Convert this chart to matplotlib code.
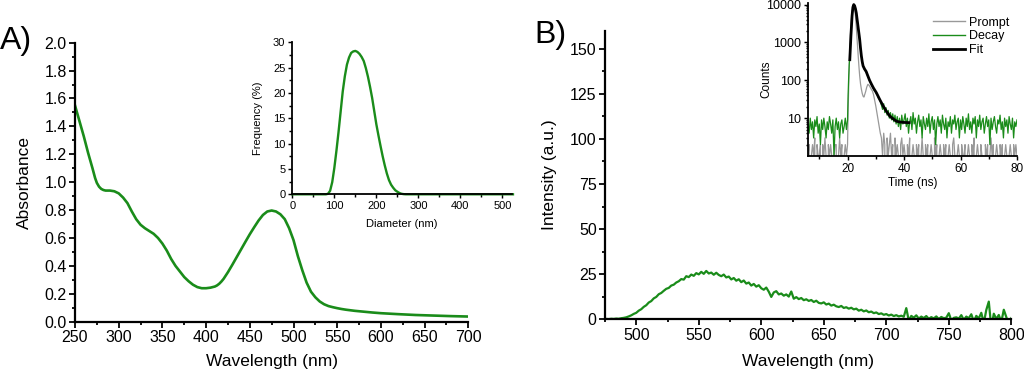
import numpy as np
import matplotlib
matplotlib.use("Agg")
import matplotlib.pyplot as plt
from matplotlib.ticker import MultipleLocator, LogLocator, NullFormatter, FixedLocator
from matplotlib.lines import Line2D

plt.rcParams['font.family'] = ['Liberation Sans', 'DejaVu Sans']

GREEN = '#1a8c1a'
GRAY = '#999999'

# ---------------- Panel A: absorbance ----------------
abs_wl = [250, 255, 260, 265, 270, 273, 275, 277.5, 280, 282.5, 285, 290, 295, 300, 305, 310, 315, 320,
          325, 330, 335, 340, 345, 350, 355, 360, 365, 370, 375, 380, 385, 390, 395,
          400, 405, 410, 412.5, 415, 417.5, 420, 425, 430, 435, 440, 445, 450, 455, 460, 465, 470,
          475, 480, 485, 490, 495, 500, 505, 510, 515, 520, 525, 530, 535, 540, 545,
          550, 555, 560, 570, 580, 590, 600, 620, 640, 660, 680, 700]
abs_val = [1.55, 1.44, 1.33, 1.21, 1.10, 1.03, 0.995, 0.968, 0.952, 0.944, 0.94, 0.94, 0.935, 0.92, 0.89, 0.85, 0.79, 0.735,
           0.695, 0.67, 0.65, 0.63, 0.60, 0.56, 0.51, 0.45, 0.40, 0.36, 0.32, 0.29, 0.265, 0.248, 0.24,
           0.24, 0.244, 0.252, 0.26, 0.272, 0.288, 0.307, 0.355, 0.408, 0.463, 0.518, 0.573, 0.627, 0.677, 0.725, 0.765, 0.79,
           0.797, 0.79, 0.77, 0.735, 0.67, 0.585, 0.47, 0.37, 0.28, 0.215, 0.175, 0.145, 0.125, 0.112, 0.104,
           0.097, 0.091, 0.086, 0.078, 0.072, 0.066, 0.061, 0.054, 0.048, 0.044, 0.040, 0.037]

# inset A: size distribution
dls_d = [0, 20, 40, 60, 80, 85, 90, 95, 100, 105, 110, 115, 120, 125, 130, 135, 140, 145, 150,
         155, 160, 165, 170, 175, 180, 185, 190, 195, 200, 205, 210, 215, 220, 225, 230, 235,
         240, 245, 250, 255, 260, 265, 270, 300, 400, 525]
dls_f = [0, 0, 0, 0, 0, 0.1, 0.7, 2.4, 5.2, 8.6, 12.3, 16.3, 20.3, 23.3, 25.6, 27.0, 27.9, 28.2, 28.3,
         28.1, 27.7, 27.1, 26.3, 24.9, 23.2, 21.2, 19.0, 16.4, 13.8, 11.6, 9.5, 7.5, 5.7, 4.1, 2.8, 1.9,
         1.3, 0.8, 0.5, 0.25, 0.1, 0.03, 0, 0, 0, 0]

# ---------------- Panel B: emission ----------------
em_start = 476
em_step = 2
em_val = [0.2, 0.1, 0.3, 0.2, 0.4, 0.3, 0.6, 0.8, 1.1, 1.6,
          2.2, 3.0, 3.6, 4.8, 5.6, 6.9, 7.8, 9.3, 10.1, 11.6,
          12.4, 13.9, 14.6, 15.8, 16.9, 17.4, 18.7, 19.2, 20.4, 21.1,
          22.3, 22.0, 23.9, 23.4, 24.8, 24.1, 25.6, 24.9, 26.3, 25.2,
          26.8, 25.4, 25.9, 24.7, 25.8, 24.6, 23.9, 24.8, 23.2, 23.7,
          22.1, 22.9, 21.4, 22.2, 20.6, 21.5, 19.8, 20.4, 18.7, 19.6,
          18.1, 18.9, 17.2, 16.4, 17.6, 15.3, 12.4, 14.9, 15.6, 13.8,
          14.3, 13.1, 13.8, 12.6, 15.4, 11.4, 12.3, 11.2, 11.8, 10.6,
          11.1, 10.2, 10.7, 9.6, 10.3, 9.1, 8.8, 9.4, 8.2, 8.7,
          7.6, 8.1, 7.2, 6.8, 7.4, 6.3, 6.7, 5.9, 6.4, 5.5,
          5.9, 4.8, 5.3, 4.4, 4.9, 3.9, 4.3, 3.4, 3.8, 2.9,
          3.3, 2.5, 2.9, 2.1, 2.6, 1.8, 2.3, 1.6, 2.0, 1.4,
          6.2, -0.8, 1.9, 0.9, 2.2, 0.4, 1.5, 0.7, 1.8, 0.3,
          1.2, 0.5, 1.6, 0.2, 1.3, 0.6, 0.9, 3.4, -0.6, 0.8,
          1.1, 0.4, 2.3, -0.3, 1.5, 0.6, 2.8, -1.2, 1.9, 0.5,
          3.6, -2.1, 5.2, 9.8, -4.6, 3.1, 0.2, 2.4, -1.5, 5.3,
          1.2, -2.8, 0.6]

# inset B: TCSPC decay
t_step = 0.4
pre_start = 6.0
tail_start = 32.0
decay_pre = [7, 4, 10, 5, 8, 3, 9, 6, 11, 4, 7, 2, 9, 5, 10, 6, 3, 8, 5, 11,
             7, 4, 9, 1, 6, 10, 5, 8, 3, 7, 9, 4, 6, 10, 5]
decay_peak_t = [20.0, 20.2, 20.4, 20.6, 20.8, 21.0, 21.3, 21.6, 21.9, 22.2, 22.5, 22.8, 23.1, 23.5,
                24.0, 24.3, 24.6, 24.9, 25.2, 25.5, 25.8, 26.1, 26.6, 27.2, 27.8, 28.2, 28.6, 29.0,
                29.4, 29.8, 30.2, 30.6, 31.0, 31.4, 31.8]
decay_peak_c = [9, 40, 120, 260, 420, 800, 2000, 5000, 8600, 9900, 9200, 7600, 5800, 3400,
                1700, 1100, 680, 430, 300, 245, 205, 190, 165, 128, 98, 86, 72, 66,
                55, 52, 44, 41, 33, 31, 25]
decay_tail = [22, 17, 24, 14, 19, 12, 16, 10, 14, 9,
              13, 8, 12, 7, 11, 6, 10, 5, 12, 7,
              9, 13, 6, 10, 4, 8, 11, 5, 14, 7,
              10, 4, 8, 12, 6, 9, 3, 11, 7, 5,
              10, 6, 13, 4, 8, 11, 5, 9, 2, 7,
              11, 6, 9, 4, 12, 7, 5, 10, 3, 8,
              6, 11, 4, 9, 7, 12, 5, 8, 10, 3,
              9, 5, 11, 7, 4, 10, 6, 13, 5, 8,
              4, 10, 7, 11, 3, 9, 6, 12, 5, 8,
              10, 4, 7, 11, 6, 9, 2, 10, 5, 8,
              11, 6, 4, 9, 7, 12, 5, 8, 3, 10,
              6, 9, 4, 11, 7, 5, 10, 3, 8, 6,
              9]
prompt_pre = [1, 2, 0, 1, 2, 1, 3, 0, 2, 1, 1, 2, 0, 2, 1, 3, 1, 0, 2, 1,
              2, 1, 0, 1, 2, 2, 0, 1, 3, 1, 2, 0, 1, 2, 1]
prompt_peak_t = [20.0, 20.2, 20.4, 20.6, 20.8, 21.0, 21.3, 21.6, 21.9, 22.2, 22.5, 22.8, 23.1, 23.5,
                 24.0, 24.3, 24.6, 24.9, 25.2, 25.5, 25.8, 26.1, 26.4, 26.8, 27.2, 27.6, 28.0, 28.4,
                 28.8, 29.2, 29.6, 30.0, 30.4, 30.8, 31.2, 31.6]
prompt_peak_c = [2, 15, 60, 250, 700, 1500, 3500, 6500, 8800, 9500, 8000, 5000, 2500, 900,
                 250, 130, 80, 58, 45, 38, 36, 42, 50, 66, 78, 74, 66, 58,
                 52, 42, 30, 21, 14, 9, 6, 4]
prompt_tail = [3, 1, 4, 2, 0, 3, 1, 2, 4, 1,
               2, 0, 3, 1, 2, 1, 0, 2, 3, 1,
               2, 1, 0, 2, 1, 3, 0, 1, 2, 1,
               0, 2, 1, 2, 0, 1, 3, 1, 0, 2,
               1, 2, 0, 1, 2, 1, 0, 3, 1, 2,
               0, 1, 2, 1, 0, 2, 1, 2, 0, 1,
               2, 1, 0, 2, 3, 1, 0, 1, 2, 1,
               0, 2, 1, 1, 2, 0, 1, 2, 1, 0,
               2, 1, 3, 0, 1, 2, 1, 0, 2, 1,
               1, 0, 2, 1, 2, 0, 1, 3, 1, 2,
               0, 1, 2, 1, 0, 2, 1, 2, 0, 1,
               2, 1, 0, 1, 2, 1, 0, 2, 1, 2,
               1]
fit_t = [20.8, 21.2, 21.6, 21.9, 22.2, 22.5, 22.8, 23.1, 23.5, 24.0, 24.3, 24.6, 24.9, 25.2,
         25.5, 26.0, 26.6, 27.2, 27.8, 28.5, 29.2, 30.2, 31.4, 32.6, 33.8, 35.0, 36.2, 37.3,
         38.5, 40.0, 41.8]
fit_c = [350, 1500, 5000, 8500, 10000, 9300, 7800, 6000, 3500, 1800, 1200, 700, 440, 310,
         240, 200, 170, 130, 100, 78, 62, 47, 31, 21, 15, 11.2, 9.5, 8.3,
         7.9, 7.7, 7.6]


def seg_t(start, vals):
    return list(start + t_step * np.arange(len(vals)))


W, H = 1024, 373
fig = plt.figure(figsize=(W / 100, H / 100), dpi=100)


def frac(left, top, right, bottom):
    return [left / W, 1 - bottom / H, (right - left) / W, (bottom - top) / H]


def style(ax, lw=1.5, fs=10, maj=4, mnr=2.2):
    for s in ('top', 'right'):
        ax.spines[s].set_visible(False)
    for s in ('left', 'bottom'):
        ax.spines[s].set_linewidth(lw)
    ax.tick_params(which='major', direction='out', length=maj, width=lw * 0.8,
                   labelsize=fs, pad=2, colors='black')
    ax.tick_params(which='minor', direction='out', length=mnr, width=lw * 0.8)


# ---- A main
axA = fig.add_axes(frac(75, 42.7, 468.3, 321.7))
axA.plot(abs_wl, abs_val, color=GREEN, lw=1.9)
axA.set_xlim(250, 700)
axA.set_ylim(0, 2.0)
axA.xaxis.set_major_locator(MultipleLocator(50))
axA.xaxis.set_minor_locator(MultipleLocator(25))
axA.yaxis.set_major_locator(MultipleLocator(0.2))
axA.yaxis.set_minor_locator(MultipleLocator(0.1))
axA.yaxis.set_major_formatter(plt.FormatStrFormatter('%.1f'))
style(axA, lw=1.6, fs=11.5, maj=4, mnr=2.5)
axA.set_xlabel('Wavelength (nm)', fontsize=12.5)
axA.set_ylabel('Absorbance', fontsize=12.5)
axA.xaxis.set_label_coords(0.5, -0.116)
axA.yaxis.set_label_coords(-0.109, 0.5)

# ---- A inset
axAi = fig.add_axes(frac(292.3, 42.3, 511.7, 194.3))
axAi.plot(dls_d, dls_f, color=GREEN, lw=1.7, clip_on=False)
axAi.set_xlim(0, 522)
axAi.set_ylim(0, 30)
axAi.xaxis.set_major_locator(FixedLocator([0, 100, 200, 300, 400, 500]))
axAi.xaxis.set_minor_locator(FixedLocator([50, 150, 250, 350, 450]))
axAi.yaxis.set_major_locator(MultipleLocator(5))
axAi.yaxis.set_minor_locator(MultipleLocator(2.5))
style(axAi, lw=1.3, fs=8, maj=3, mnr=2)
axAi.set_xlabel('Diameter (nm)', fontsize=8)
axAi.set_ylabel('Frequency (%)', fontsize=8)
axAi.xaxis.set_label_coords(0.5, -0.165)
axAi.yaxis.set_label_coords(-0.134, 0.5)

# ---- B main
axB = fig.add_axes(frac(605, 30.7, 1011.3, 319.3))
em_wl = em_start + em_step * np.arange(len(em_val))
axB.plot(em_wl, em_val, color=GREEN, lw=1.6)
axB.set_xlim(475, 800)
axB.set_ylim(0, 160)
axB.xaxis.set_major_locator(MultipleLocator(50))
axB.xaxis.set_minor_locator(MultipleLocator(25))
axB.yaxis.set_major_locator(MultipleLocator(25))
axB.yaxis.set_minor_locator(MultipleLocator(12.5))
style(axB, lw=1.6, fs=11.5, maj=4, mnr=2.5)
axB.set_xlabel('Wavelength (nm)', fontsize=12.5)
axB.set_ylabel('Intensity (a.u.)', fontsize=12.5)
axB.xaxis.set_label_coords(0.5, -0.12)
axB.yaxis.set_label_coords(-0.118, 0.5)

# ---- B inset
axBi = fig.add_axes(frac(808, 3, 1017, 156))
pt = seg_t(pre_start, prompt_pre) + prompt_peak_t + seg_t(tail_start, prompt_tail)
pc = prompt_pre + prompt_peak_c + prompt_tail
dt = seg_t(pre_start, decay_pre) + decay_peak_t + seg_t(tail_start, decay_tail)
dc = decay_pre + decay_peak_c + decay_tail
axBi.set_yscale('log', nonpositive='clip')
axBi.plot(pt, pc, color=GRAY, lw=0.9, label='Prompt')
axBi.plot(dt, dc, color=GREEN, lw=0.9, label='Decay')
axBi.plot(fit_t, fit_c, color='black', lw=2.0, label='Fit')
axBi.set_xlim(6, 80)
axBi.set_ylim(1.0, 11000)
axBi.xaxis.set_major_locator(MultipleLocator(20))
axBi.xaxis.set_minor_locator(MultipleLocator(10))
axBi.yaxis.set_major_locator(FixedLocator([10, 100, 1000, 10000]))
axBi.yaxis.set_major_formatter(plt.FuncFormatter(lambda v, p: '%d' % v))
axBi.yaxis.set_minor_locator(LogLocator(base=10, subs=np.arange(2, 10), numticks=20))
axBi.yaxis.set_minor_formatter(NullFormatter())
style(axBi, lw=1.3, fs=8.5, maj=3, mnr=1.8)
axBi.tick_params(axis='y', which='major', labelsize=9)
axBi.set_xlabel('Time (ns)', fontsize=8.5)
axBi.set_ylabel('Counts', fontsize=8.5)
axBi.xaxis.set_label_coords(0.5, -0.135)
axBi.yaxis.set_label_coords(-0.172, 0.5)
handles = [Line2D([], [], color=GRAY, lw=1.0), Line2D([], [], color=GREEN, lw=1.0),
           Line2D([], [], color='black', lw=2.0)]
axBi.legend(handles, ['Prompt', 'Decay', 'Fit'], loc='upper right', frameon=False,
            fontsize=9, handlelength=2.6, handletextpad=0.3, labelspacing=0.15,
            bbox_to_anchor=(1.0, 0.96), borderaxespad=0.2)

fig.text(0.0, 0.89, 'A)', fontsize=23, va='center', ha='left')
fig.text(0.522, 0.905, 'B)', fontsize=23, va='center', ha='left')

fig.savefig('out.png', dpi=100)
